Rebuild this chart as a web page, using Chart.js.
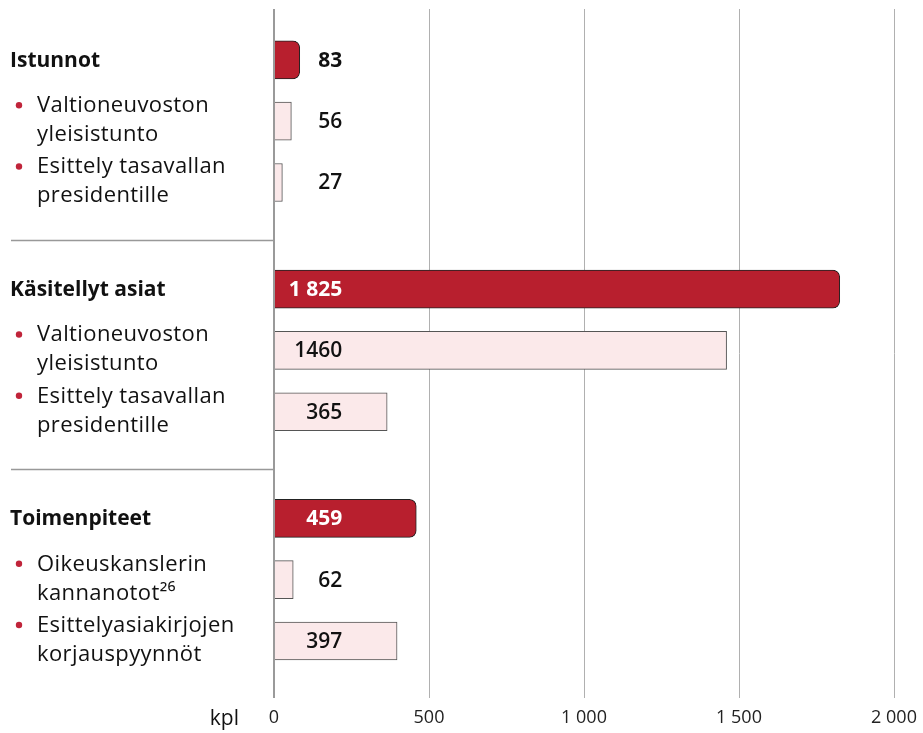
<!DOCTYPE html>
<html>
<head>
<meta charset="utf-8">
<script src="https://cdn.jsdelivr.net/npm/chart.js@4.4.0/dist/chart.umd.min.js"></script>
<style>
  html, body { margin: 0; padding: 0; background: #fff; }
  #wrap { width: 923px; height: 733px; }
</style>
</head>
<body>
<div id="wrap"><canvas id="chart" width="923" height="733"></canvas></div>
<script>
// --- data ---
const groupNames = ["Istunnot", "Käsitellyt asiat", "Toimenpiteet"];
const groupTotals = [83, 1825, 459];
const subNames = [
  [["Valtioneuvoston", "yleisistunto"], ["Esittely tasavallan", "presidentille"]],
  [["Valtioneuvoston", "yleisistunto"], ["Esittely tasavallan", "presidentille"]],
  [["Oikeuskanslerin", "kannanotot²⁶"], ["Esittelyasiakirjojen", "korjauspyynnöt"]]
];
const subValues = [[56, 27], [1460, 365], [62, 397]];
const valueText = ["83", "56", "27", "1 825", "1460", "365", "459", "62", "397"];
const tickValues = [0, 500, 1000, 1500, 2000];
const tickLabels = ["0", "500", "1 000", "1 500", "2 000"];
const unitLabel = "kpl";

// layout constants
const GROUP_STEP = 3.74;   // row units between first rows of consecutive groups
const LABEL_AT = 220;      // value-labels are right-aligned at this x value
const FONT = "'Open Sans', sans-serif";
const RED = "#b81f2e";
const PINK = "#fbe9ea";

// rows: one total + two sub rows per group
const rows = [];
groupNames.forEach((g, gi) => {
  rows.push({ pos: gi * GROUP_STEP, value: groupTotals[gi], total: true, gi });
  subValues[gi].forEach((v, si) => {
    rows.push({ pos: gi * GROUP_STEP + si + 1, value: v, total: false, gi, si });
  });
});

const sidePlugin = {
  id: "side",
  afterDatasetsDraw(chart) {
    const { ctx, scales: { x, y } } = chart;
    ctx.save();
    // value labels
    rows.forEach((r, i) => {
      const cy = y.getPixelForValue(r.pos);
      const end = x.getPixelForValue(r.value);
      const tx = x.getPixelForValue(LABEL_AT);
      const inside = end > tx;
      ctx.font = (r.total ? "bold " : "600 ") + "21px " + FONT;
      ctx.fillStyle = r.total && inside ? "#fff" : "#111";
      ctx.textAlign = "right";
      ctx.textBaseline = "middle";
      ctx.fillText(valueText[i], tx, cy + 1);
    });
    // left labels
    rows.forEach(r => {
      const cy = y.getPixelForValue(r.pos);
      ctx.textAlign = "left";
      if (r.total) {
        ctx.font = "bold 21px " + FONT;
        ctx.letterSpacing = "0px";
        ctx.fillStyle = "#111";
        ctx.textBaseline = "middle";
        ctx.fillText(groupNames[r.gi], 10, cy + 1);
      } else {
        const lines = subNames[r.gi][r.si];
        ctx.font = "22px " + FONT;
        ctx.letterSpacing = "0.4px";
        ctx.fillStyle = "#111";
        ctx.textBaseline = "alphabetic";
        ctx.fillText(lines[0], 37, cy - 9);
        ctx.fillText(lines[1], 37, cy + 20);
        ctx.fillStyle = "#c0243a";
        ctx.beginPath();
        ctx.arc(19, cy - 16, 3.2, 0, Math.PI * 2);
        ctx.fill();
      }
    });
    ctx.letterSpacing = "0px";
    // separators between groups
    ctx.strokeStyle = "#999";
    ctx.lineWidth = 1.5;
    for (let gi = 1; gi < groupNames.length; gi++) {
      const mid = ((gi - 1) * GROUP_STEP + 2 + gi * GROUP_STEP) / 2;
      const sy = Math.round(y.getPixelForValue(mid)) + 4.5;
      ctx.beginPath();
      ctx.moveTo(11, sy);
      ctx.lineTo(x.getPixelForValue(0), sy);
      ctx.stroke();
    }
    // unit label
    ctx.font = "21px " + FONT;
    ctx.fillStyle = "#111";
    ctx.textAlign = "right";
    ctx.textBaseline = "middle";
    ctx.fillText(unitLabel, 239, 719);
    ctx.restore();
  }
};

new Chart(document.getElementById("chart"), {
  type: "bar",
  data: {
    datasets: [{
      data: rows.map(r => ({ x: r.value, y: r.pos })),
      backgroundColor: rows.map(r => r.total ? RED : PINK),
      borderColor: rows.map(r => r.total ? "#222" : "#555"),
      borderWidth: 1,
      borderSkipped: "start",
      borderRadius: rows.map(r => r.total ? { topRight: 7, bottomRight: 7, topLeft: 0, bottomLeft: 0 } : 0),
      barThickness: 38
    }]
  },
  options: {
    indexAxis: "y",
    responsive: false,
    animation: false,
    events: [],
    layout: { padding: { left: 274, right: 29, top: 9, bottom: 0 } },
    plugins: { legend: { display: false }, tooltip: { enabled: false } },
    scales: {
      y: {
        type: "linear",
        display: false,
        reverse: true,
        offset: false,
        min: -0.83,
        max: 2 * GROUP_STEP + 2 + 0.93
      },
      x: {
        type: "linear",
        min: 0,
        max: 2000,
        afterBuildTicks: s => { s.ticks = tickValues.map(v => ({ value: v })); },
        afterFit: s => { s.height = 35; s.paddingLeft = 0; s.paddingRight = 0; },
        border: { display: false },
        grid: {
          drawTicks: false,
          color: c => c.tick && c.tick.value === 0 ? "#9a9a9a" : "#b0b0b0",
          lineWidth: c => c.tick && c.tick.value === 0 ? 2 : 1
        },
        ticks: {
          padding: 9,
          color: "#222",
          font: { family: FONT, size: 18 },
          callback: (v) => tickLabels[tickValues.indexOf(v)]
        }
      }
    }
  },
  plugins: [sidePlugin]
});
</script>
</body>
</html>
